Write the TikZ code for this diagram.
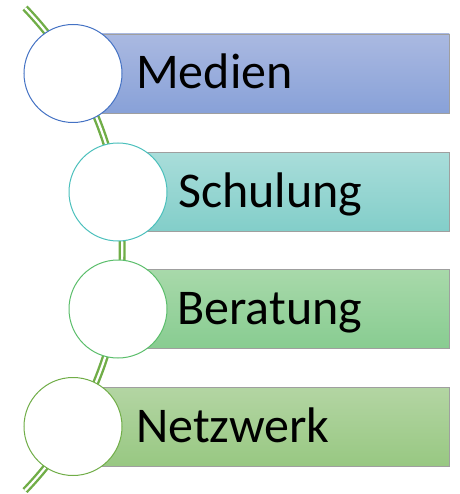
\documentclass[tikz,border=0pt]{standalone}
\usepackage{fontspec}
\setmainfont{Carlito}
\usetikzlibrary{positioning}
\definecolor{linegreen}{HTML}{70AD47}
\definecolor{ringA}{HTML}{4472C4}
\definecolor{ringB}{HTML}{4BC0BC}
\definecolor{ringC}{HTML}{5BBE6B}
\definecolor{ringD}{HTML}{70AD47}
\definecolor{barAtop}{HTML}{AAB9E1}
\definecolor{barAbot}{HTML}{88A1D8}
\definecolor{barBtop}{HTML}{A9DDDA}
\definecolor{barBbot}{HTML}{82CEC9}
\definecolor{barCtop}{HTML}{A8D9AA}
\definecolor{barCbot}{HTML}{88CC91}
\definecolor{barDtop}{HTML}{B3D5A3}
\definecolor{barDbot}{HTML}{98C882}

\begin{document}
\begin{tikzpicture}[x=1pt,y=-1pt,
    bar/.style={draw=gray!75,line width=0.8pt,minimum height=79pt,anchor=west,inner sep=0pt},
    ring/.style={circle,fill=white,line width=1pt,minimum size=98pt,inner sep=0pt},
    lbl/.style={font=\fontsize{50}{50}\selectfont,text height=31pt,text depth=0pt,inner sep=0pt}]
		\useasboundingbox (0,0) rectangle (459,494);
		% the green double band behind the circles
		\coordinate (bandtop) at (25,8);
		\draw[draw=linegreen,line width=2.4pt,double=white,double distance=2.2pt] (bandtop) arc[start angle=-43.9,end angle=43.9,radius=348];
		\node[bar,top color=barAtop,bottom color=barAbot,minimum width=376pt] (medienbar) at (73,73.5) {};
		\node[bar,top color=barBtop,bottom color=barBbot,minimum width=331pt] (schulungbar) at (118,192) {};
		\node[bar,top color=barCtop,bottom color=barCbot,minimum width=331pt] (beratungbar) at (118,309) {};
		\node[bar,top color=barDtop,bottom color=barDbot,minimum width=376pt] (netzwerkbar) at (73,426.5) {};
		\node[ring,draw=ringA] (medienring) at (medienbar.west) {};
		\node[ring,draw=ringB] (schulungring) at (schulungbar.west) {};
		\node[ring,draw=ringC] (beratungring) at (beratungbar.west) {};
		\node[ring,draw=ringD] (netzwerkring) at (netzwerkbar.west) {};
		\node[lbl,right=63pt of medienbar.west] (medien) {Medien};
		\node[lbl,right=60pt of schulungbar.west] (schulung) {Schulung};
		\node[lbl,right=59pt of beratungbar.west] (beratung) {Beratung};
		\node[lbl,right=63pt of netzwerkbar.west] (netzwerk) {Netzwerk};
\end{tikzpicture}
\end{document}
